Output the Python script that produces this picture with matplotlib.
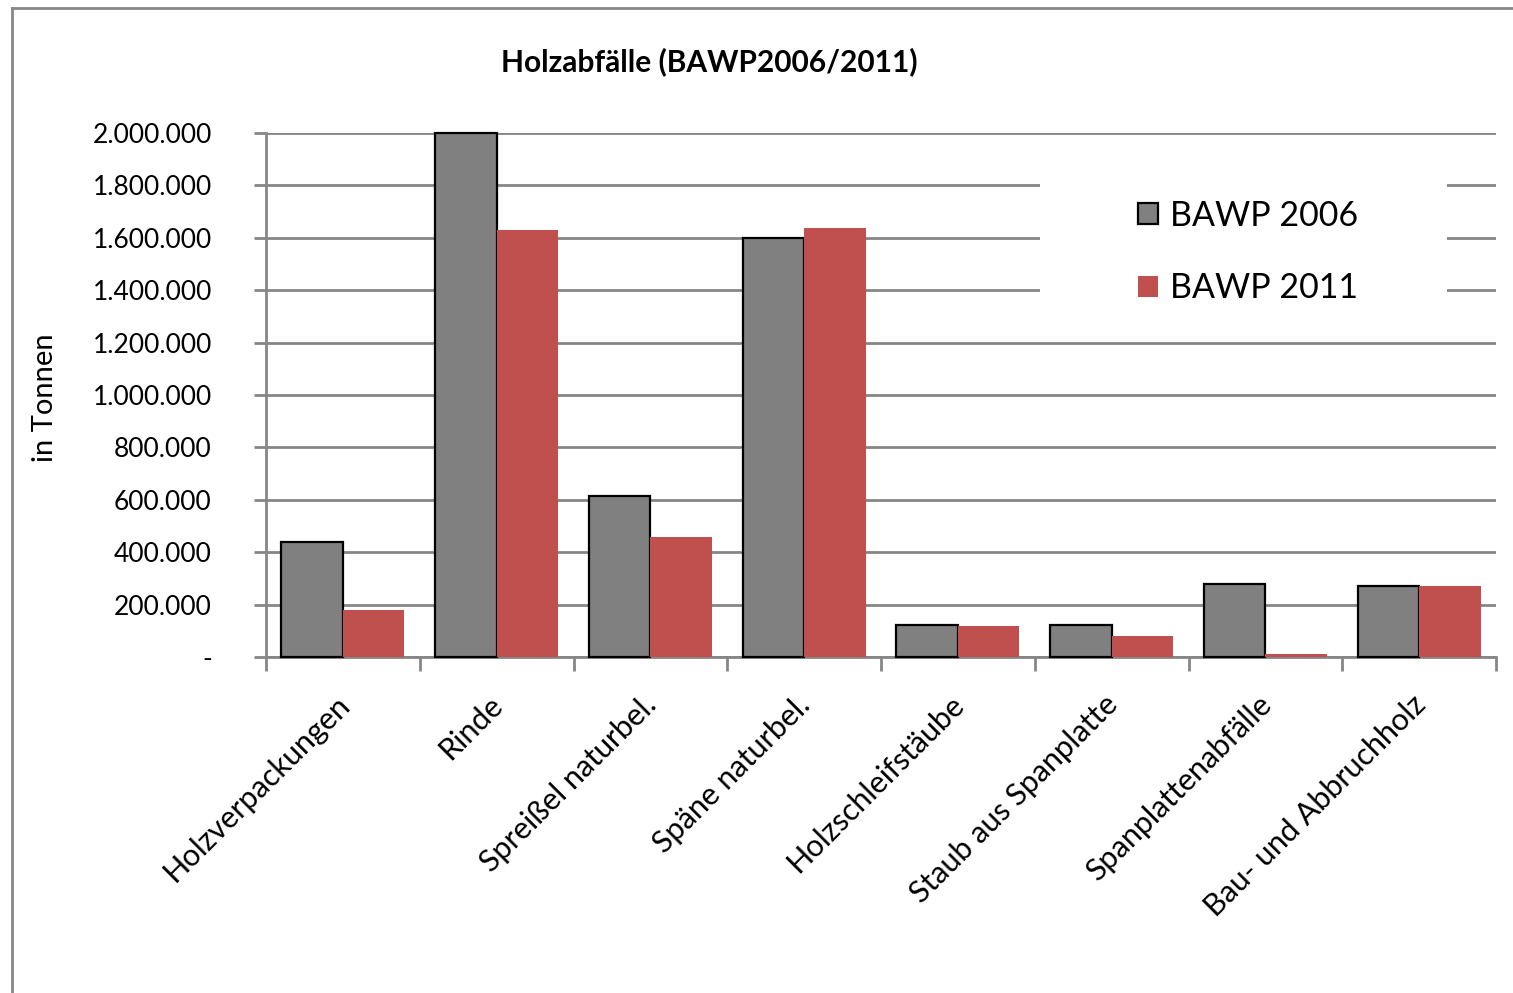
import matplotlib.pyplot as plt
from matplotlib.lines import Line2D
from matplotlib.patches import Rectangle
from matplotlib.ticker import FuncFormatter
from matplotlib.transforms import ScaledTranslation
import numpy as np

categories = ['Holzverpackungen', 'Rinde', 'Spreißel naturbel.', 'Späne naturbel.',
              'Holzschleifstäube', 'Staub aus Spanplatte', 'Spanplattenabfälle',
              'Bau- und Abbruchholz']
bawp_2006 = [440000, 2000000, 615000, 1600000, 122000, 122000, 277000, 271000]
bawp_2011 = [180000, 1630000, 458000, 1637000, 117000, 80000, 10000, 271000]
y_ticks = [0, 200000, 400000, 600000, 800000, 1000000, 1200000, 1400000,
           1600000, 1800000, 2000000]

plt.rcParams['font.family'] = ['Lato', 'DejaVu Sans']

W, H = 1513, 993
fig = plt.figure(figsize=(15.13, 9.93), dpi=100)
ax = fig.add_axes([266 / W, 1 - 657 / H, 1230 / W, 524 / H])

grid_col = '#868686'
x = np.arange(len(categories))
w = 0.4
ax.bar(x - w / 2, bawp_2006, w, color='#808080', edgecolor='black',
       linewidth=1.6, label='BAWP 2006', zorder=3, clip_on=False)
ax.bar(x + w / 2, bawp_2011, w, color='#C0504D', linewidth=0,
       label='BAWP 2011', zorder=3)

ax.set_xlim(-0.5, len(categories) - 0.5)
ax.set_ylim(0, 2000000)
ax.set_yticks(y_ticks)


def fmt(v, pos):
    if v == 0:
        return '-'
    return f'{int(v):,}'.replace(',', '.')


ax.yaxis.set_major_formatter(FuncFormatter(fmt))
ax.yaxis.grid(True, color=grid_col, linewidth=2, zorder=0)
ax.set_axisbelow(True)

# category labels as rotated text, slightly left of the group centre
ax.set_xticks([])
ax.set_xticks(np.arange(-0.5, len(categories)), minor=True)
ax.tick_params(axis='x', which='minor', length=10, width=2, color=grid_col)
offset = ScaledTranslation(-8 / 100, -24 / 72, fig.dpi_scale_trans)
for i, name in enumerate(categories):
    ax.text(i, 0, name, transform=ax.get_xaxis_transform() + offset,
            rotation=45, ha='right', va='top', rotation_mode='anchor', fontsize=22)

ax.tick_params(axis='y', length=9, width=2, color=grid_col, labelsize=19, pad=30)

for s in ['top', 'right']:
    ax.spines[s].set_visible(False)
for s in ['left', 'bottom']:
    ax.spines[s].set_color(grid_col)
    ax.spines[s].set_linewidth(2)

ax.set_ylabel('in Tonnen', fontsize=21, va='center')
ax.yaxis.set_label_coords((45 - 266) / 1230, (657 - 398) / 524)
fig.text(709 / W, 1 - 62 / H, 'Holzabfälle (BAWP2006/2011)', fontsize=21.5,
         fontweight='bold', ha='center', va='center')

# white legend area hiding the gridlines
ax.add_patch(Rectangle(((1040 - 266) / 1230, (657 - 320) / 524), 407 / 1230, 165 / 524,
                       transform=ax.transAxes, facecolor='white', edgecolor='none',
                       zorder=2))
ax.legend(loc='center left', bbox_to_anchor=((1138 - 266) / 1230, (657 - 252) / 524),
          frameon=False, fontsize=24.5, handlelength=0.6, handleheight=0.6,
          handletextpad=0.35, labelspacing=1.2, borderpad=0, borderaxespad=0)

# outer chart border
fig.add_artist(Line2D([12 / W, 12 / W], [0, 1 - 8 / H], color='#888888',
                      linewidth=2, transform=fig.transFigure))
fig.add_artist(Line2D([12 / W, 1], [1 - 8 / H, 1 - 8 / H], color='#888888',
                      linewidth=2, transform=fig.transFigure))

fig.savefig('out.png', dpi=100)
